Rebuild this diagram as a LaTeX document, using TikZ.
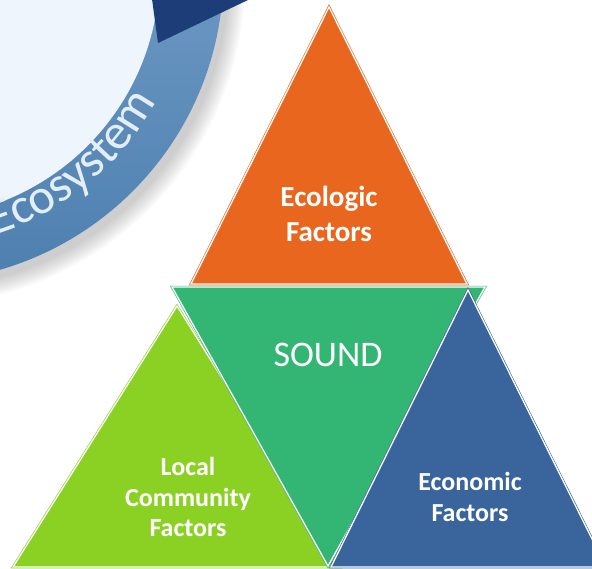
\documentclass[tikz,border=0pt]{standalone}
\usepackage{fontspec}
\setmainfont{Carlito}
\usetikzlibrary{decorations.text}
\definecolor{ecoorange}{HTML}{E9661F}
\definecolor{soundgreen}{HTML}{33B674}
\definecolor{locallime}{HTML}{8AD124}
\definecolor{econblue}{HTML}{3A659C}
\definecolor{bandlight}{HTML}{8AB0D6}
\definecolor{banddark}{HTML}{4D7FAF}
\definecolor{arrownavy}{HTML}{1C3D77}
\definecolor{ringfill}{HTML}{EEF5FC}
\definecolor{lettering}{HTML}{E3EEF8}

\begin{document}
\begin{tikzpicture}[x=1pt, y=-1pt,
    tri/.style={fill=#1, draw=#1, double=white, double distance=1.3pt, line width=0.6pt},
    factor/.style={text=white, align=center, inner sep=0pt}]
  \useasboundingbox (0,0) rectangle (592,568);
  \clip (0,0) rectangle (592,568);

  % Ecosystem ring, soft shadow first
  \coordinate (ring) at (-86.5,-28);
  \coordinate (ringshadow) at (-82,-22);
  \foreach \r in {311,313,...,327}
    \fill[black, opacity=0.025] (ringshadow) circle[radius=\r];
  \shade[top color=bandlight, bottom color=banddark] (ring) circle[radius=310];
  \fill[ringfill] (ring) circle[radius=246];
  \fill[arrownavy] (152,-1) -- (250,-1) -- (158,43) -- cycle;
  \path[decorate, decoration={text along path, text align=right, text color=lettering,
      text={|\fontsize{50}{50}\selectfont|Ecosystem}}]
    (ring) ++(82:275) arc[start angle=82, end angle=28, radius=275];

  % Triangles, back to front
  \draw[tri=ecoorange] (329,7) -- (467,284) -- (191,284) -- cycle;
  \draw[tri=locallime] (177,306) -- (340,567) -- (13,567) -- cycle;
  \draw[tri=soundgreen] (172,287) -- (485,287) -- (328,566) -- cycle;
  \draw[tri=econblue] (468,290) -- (606,567) -- (331,567) -- cycle;

  % Labels
  \node[factor, font=\fontsize{29}{35}\selectfont\bfseries] (ecologic) at (329,214) {Ecologic\\Factors};
  \node[factor, font=\fontsize{36}{40}\selectfont] (sound) at (328,355) {SOUND};
  \node[factor, font=\fontsize{26}{30.5}\selectfont\bfseries] (community) at (188,497) {Local\\Community\\Factors};
  \node[factor, font=\fontsize{26}{31}\selectfont\bfseries] (economic) at (470,497) {Economic\\Factors};
\end{tikzpicture}
\end{document}
